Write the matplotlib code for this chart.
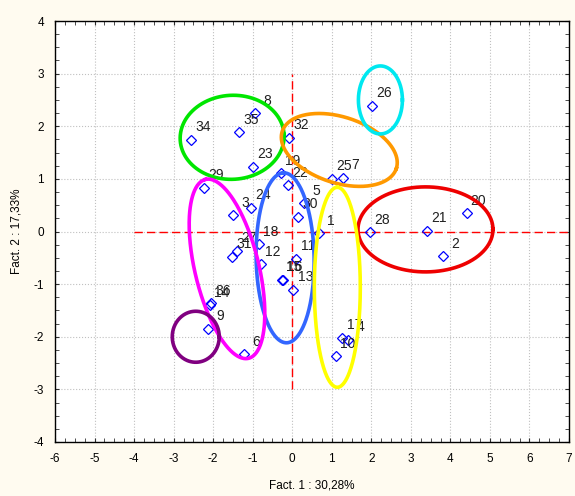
import numpy as np
import matplotlib
matplotlib.use("Agg")
import matplotlib.pyplot as plt
from matplotlib.ticker import MultipleLocator

plt.rcParams['font.family'] = ['Liberation Sans', 'DejaVu Sans']
plt.rcParams['axes.unicode_minus'] = False

# factor scores
labels = ['34', '35', '8', '23', '32', '19', '22', '25', '7', '26',
          '29', '24', '3', '5', '30', '1', '28', '21', '20', '2',
          '18', '31', '27', '12', '11', '15', '16', '13', '36', '14',
          '9', '6', '17', '4', '10']
fact1 = [-2.56, -1.34, -0.94, -0.99, -0.08, -0.28, -0.10, 1.01, 1.29, 2.03,
         -2.23, -1.04, -1.49, 0.30, 0.15, 0.68, 1.97, 3.42, 4.41, 3.82,
         -0.84, -1.52, -1.39, -0.78, 0.10, -0.25, -0.23, 0.03, -2.05, -2.08,
         -2.13, -1.22, 1.27, 1.42, 1.11]
fact2 = [1.74, 1.89, 2.25, 1.23, 1.78, 1.11, 0.88, 1.00, 1.02, 2.39,
         0.83, 0.45, 0.31, 0.54, 0.28, -0.03, -0.01, 0.01, 0.35, -0.47,
         -0.24, -0.48, -0.37, -0.62, -0.52, -0.92, -0.92, -1.11, -1.36, -1.40,
         -1.85, -2.33, -2.02, -2.06, -2.37]

# group outlines: centre (data), semi-axes (pixels), angle (deg)
groups = [
    ((-1.52, 1.79), 52, 42, 3, '#00e600'),
    ((1.19, 1.55), 60, 33, -18, '#ff9900'),
    ((2.23, 2.50), 22, 34, 0, '#00e8f0'),
    ((3.37, 0.04), 67.5, 42.5, 0, '#ee0000'),
    ((-0.18, -0.50), 85, 29, 91, '#3366ff'),
    ((1.14, -1.06), 100, 23, 90, '#ffff00'),
    ((-1.65, -0.71), 92, 32, 103.5, '#ff00ff'),
    ((-2.44, -2.00), 23.5, 25.5, 0, '#800080'),
]

W, H = 575, 496
fig = plt.figure(figsize=(W / 100, H / 100), dpi=100, facecolor='#fffbf0')
ax = fig.add_axes([55 / W, 1 - 442 / H, (569 - 55) / W, (442 - 21) / H])
ax.set_facecolor('white')
ax.set_xlim(-6, 7)
ax.set_ylim(-4, 4)

# pixels per data unit
sx = (569 - 55) / 13
sy = (442 - 21) / 8

ax.grid(True, color='#c0c0c0', linestyle=':', linewidth=0.8)
ax.set_axisbelow(True)

ax.plot([-4, 7], [0, 0], color='red', linewidth=1, dashes=(6, 3))
ax.plot([0, 0], [-3, 3], color='red', linewidth=1, dashes=(6, 3))

t = np.linspace(0, 2 * np.pi, 300)
for (cx, cy), a, b, ang, col in groups:
    th = np.deg2rad(ang)
    px = a * np.cos(t) * np.cos(th) - b * np.sin(t) * np.sin(th)
    py = a * np.cos(t) * np.sin(th) + b * np.sin(t) * np.cos(th)
    ax.plot(cx + px / sx, cy + py / sy, color=col, linewidth=2.6, zorder=4)

ax.plot(fact1, fact2, linestyle='none', marker='D', markersize=4.8,
        markerfacecolor='none', markeredgecolor='blue', markeredgewidth=0.9, zorder=3)
for lab, x, y in zip(labels, fact1, fact2):
    ax.annotate(lab, (x, y), xytext=(8.5, 9), textcoords='offset points',
                ha='center', va='center', fontsize=10, color='#202020', zorder=3)

ax.set_xticks(np.arange(-6, 8, 1))
ax.set_yticks(np.arange(-4, 5, 1))
ax.xaxis.set_minor_locator(MultipleLocator(0.25))
ax.yaxis.set_minor_locator(MultipleLocator(0.25))
ax.tick_params(which='both', direction='in', labelsize=8.5, length=3,
               top=True, right=True, color='#303030')
ax.tick_params(which='major', pad=8)
for s in ax.spines.values():
    s.set_linewidth(1)

ax.set_xlabel('Fact. 1 : 30,28%', fontsize=8.5, labelpad=10)
ax.set_ylabel('Fact. 2 : 17,33%', fontsize=8.5, labelpad=8)

fig.savefig('out.png', dpi=100, facecolor=fig.get_facecolor())
